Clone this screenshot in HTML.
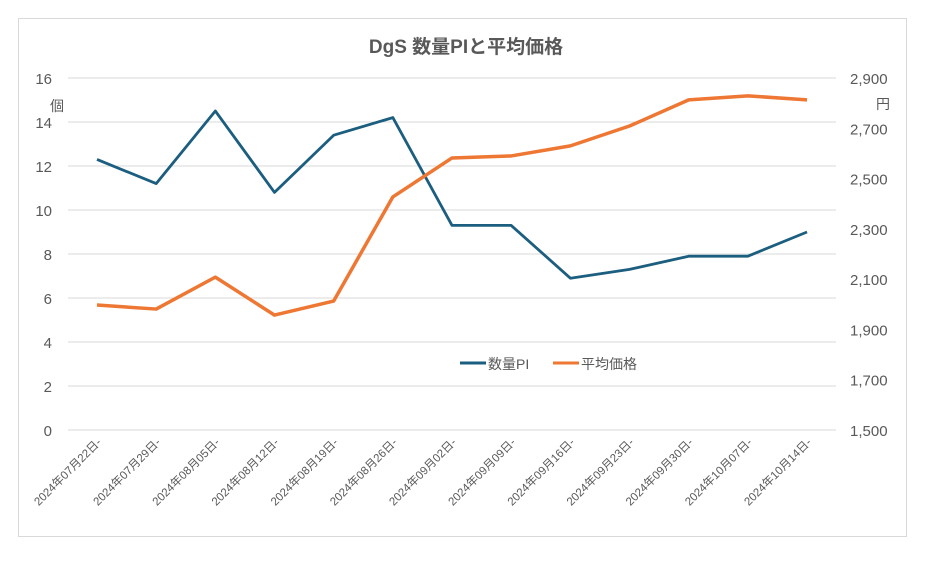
<!DOCTYPE html>
<html><head><meta charset="utf-8"><style>
body{margin:0;background:#fff;width:932px;height:558px;overflow:hidden}
svg text{font-family:"Liberation Sans","Noto Sans CJK JP",sans-serif;fill:#595959}
</style></head><body>
<svg id="c" width="932" height="558">
<rect x="18.5" y="18.5" width="888" height="518" fill="#fff" stroke="#d9d9d9"/>
<text x="466" y="53" text-anchor="middle" font-size="19" font-weight="bold">DgS  数量PIと平均価格</text>
<text x="50" y="111" font-size="14">個</text>
<text x="876" y="109" font-size="14">円</text>
<g id="grid"></g><g id="lt"></g><g id="rt"></g><g id="xt"></g><g id="series"></g>
<g>
<line x1="460" y1="363" x2="486" y2="363" stroke="#1b5e7f" stroke-width="3"/>
<text x="488" y="369" font-size="14">数量PI</text>
<line x1="553" y1="363" x2="579" y2="363" stroke="#ee7733" stroke-width="3"/>
<text x="581" y="369" font-size="14">平均価格</text>
</g>
</svg>
<script>
const categories=["2024年07月22日-","2024年07月29日-","2024年08月05日-","2024年08月12日-","2024年08月19日-","2024年08月26日-","2024年09月02日-","2024年09月09日-","2024年09月16日-","2024年09月23日-","2024年09月30日-","2024年10月07日-","2024年10月14日-"];
const qtyValues=[12.3,11.2,14.5,10.8,13.4,14.2,9.3,9.3,6.9,7.3,7.9,7.9,9.0];
const priceValues=[1997,1981,2108,1957,2013,2427,2582,2590,2630,2709,2813,2829,2813];
const leftTicks=[0,2,4,6,8,10,12,14,16];
const rightTicks=[1500,1700,1900,2100,2300,2500,2700,2900];
const NS="http://www.w3.org/2000/svg";
const yTop=78,yBot=430,x0=97,dx=59.17;
const yL=v=>yBot-(v-0)/16*(yBot-yTop);
const yR=v=>yBot-(v-1500)/1400*(yBot-yTop);
const xS=i=>x0+i*dx;
function mk(t,a,p){const e=document.createElementNS(NS,t);for(const k in a)e.setAttribute(k,a[k]);p.appendChild(e);return e;}
const g=document.getElementById('grid'),lt=document.getElementById('lt'),rt=document.getElementById('rt'),xt=document.getElementById('xt'),s=document.getElementById('series');
leftTicks.forEach(v=>{
 const l=mk('line',{x1:68,x2:836,y1:yL(v),y2:yL(v),stroke:'#d9d9d9','stroke-width':1},g);
 
 
 const t=mk('text',{x:52,y:yL(v)+6,'text-anchor':'end','font-size':15},lt);t.textContent=v;
 
 
});
rightTicks.forEach(v=>{
 const t=mk('text',{x:850,y:yR(v)+6,'font-size':15},rt);t.textContent=v.toLocaleString('en-US');
 
 
});
categories.forEach((c,i)=>{
 const t=mk('text',{x:0,y:0,'text-anchor':'end','font-size':11.5,transform:`translate(${xS(i)+5},${yBot+13}) rotate(-45)`},xt);t.textContent=c;
 
 
});
const p1=mk('polyline',{points:qtyValues.map((v,i)=>xS(i)+','+yL(v)).join(' '),fill:'none',stroke:'#1b5e7f','stroke-width':2.8,'stroke-linejoin':'round'},s);


const p2=mk('polyline',{points:priceValues.map((v,i)=>xS(i)+','+yR(v)).join(' '),fill:'none',stroke:'#ee7733','stroke-width':3.5,'stroke-linejoin':'round'},s);


</script>
</body></html>
